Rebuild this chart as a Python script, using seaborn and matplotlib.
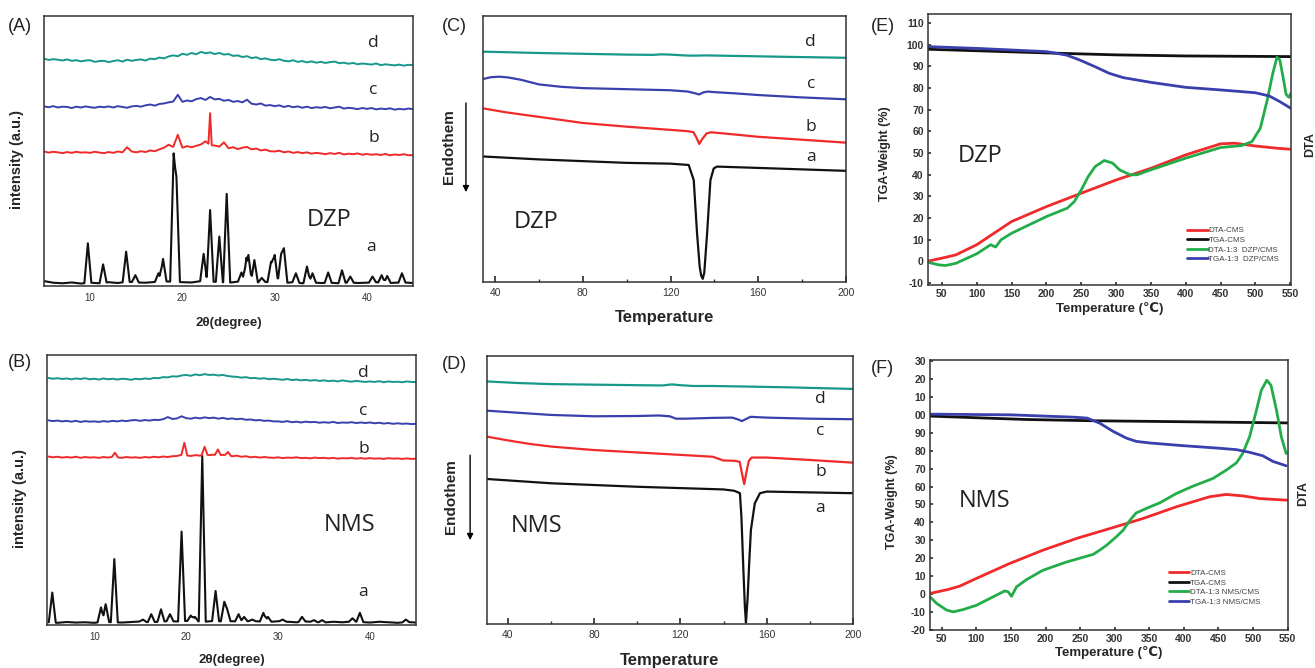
import numpy as np
import matplotlib
matplotlib.use("Agg")
import matplotlib.pyplot as plt
import seaborn as sns

sns.set_theme(style="white")
plt.rcParams['font.family'] = ['Liberation Sans', 'DejaVu Sans']

# ---------------- DATA ----------------
# XRD grids (2theta, degree)
xrd_grid = np.linspace(5, 45, 81)          # 0.5 deg steps
xrd_base_grid = np.linspace(5, 45, 41)     # 1 deg steps

# (A) DZP XRD
dzp_a_base = [1.8, 1.2, 1.0, 1.3, 0.9, 1.2, 1.0, 1.4, 1.1, 1.6, 1.3, 1.2, 1.5, 1.7, 1.6, 1.4, 1.3, 1.8, 1.6, 1.5,
              1.2, 1.6, 1.4, 1.3, 1.5, 1.2, 1.1, 1.4, 1.0, 1.3, 1.1, 1.2, 1.0, 1.3, 1.1, 1.2, 1.4, 1.0, 1.2, 1.3, 1.1]
dzp_a_peak_pos = [9.75, 11.4, 13.9, 14.9, 17.4, 17.9, 19.05, 19.2, 19.35, 22.3, 23.0, 24.0, 24.8, 26.4, 26.95,
                  27.15, 27.8, 28.6, 29.6, 30.0, 30.7, 31.0, 32.3, 33.5, 34.1, 35.8, 37.3, 38.2, 40.6, 41.6, 42.2, 43.8]
dzp_a_peak_h = [15.8, 8.0, 12.7, 4.0, 4.7, 10.0, 49.1, 44.0, 40.5, 11.9, 28.1, 18.3, 34.1, 5.0, 10.5,
                11.5, 9.6, 3.0, 8.9, 11.5, 11.9, 14.0, 4.7, 7.2, 4.7, 5.0, 5.8, 3.5, 3.5, 4.0, 3.7, 4.7]
dzp_b = [49.8, 49.4, 49.7, 49.5, 49.2, 49.6, 49.3, 49.7, 49.4, 49.5,
         49.3, 49.7, 49.4, 49.2, 49.6, 49.3, 49.8, 49.5, 51.4, 49.8,
         49.5, 49.9, 49.6, 50.2, 49.9, 50.6, 51.2, 52.3, 51.5, 56.0,
         51.2, 51.8, 51.4, 51.9, 52.4, 53.6, 52.2, 52.0, 51.6, 53.2,
         51.0, 51.4, 50.7, 51.2, 51.5, 50.6, 50.9, 50.2, 50.5, 49.9,
         49.8, 50.1, 49.5, 49.8, 49.3, 49.6, 49.2, 49.5, 49.0, 49.3,
         49.1, 48.8, 49.2, 48.9, 49.3, 48.7, 49.0, 48.8, 49.1, 48.6,
         48.9, 48.6, 48.8, 48.5, 48.9, 48.4, 48.7, 48.5, 48.8, 48.4,
         48.5]
dzp_b_peak_pos = [23.0]
dzp_b_peak_h = [64.0]
dzp_c = [66.5, 66.2, 66.6, 66.1, 66.4, 66.3, 65.9, 66.4, 66.1, 66.5,
         66.2, 66.0, 66.4, 66.2, 66.5, 66.1, 66.6, 66.3, 66.0, 66.5,
         66.7, 66.4, 66.9, 67.2, 66.8, 67.4, 67.6, 68.0, 68.3, 70.8,
         68.2, 68.7, 68.4, 69.2, 69.6, 68.9, 70.0, 69.1, 69.3, 68.6,
         68.9, 68.2, 68.5, 68.0, 69.0, 67.5, 67.2, 67.6, 66.8, 67.0,
         66.6, 66.9, 66.3, 66.7, 66.2, 66.5, 66.0, 66.4, 65.9, 66.2,
         66.0, 66.3, 65.8, 66.1, 66.4, 65.7, 66.0, 65.8, 65.5, 65.9,
         65.6, 65.9, 65.4, 65.7, 65.5, 65.8, 65.3, 65.6, 65.4, 65.7,
         65.5]
dzp_d = [84.2, 83.7, 84.0, 83.8, 83.5, 83.9, 83.4, 83.6, 83.2, 83.5,
         83.6, 83.0, 83.3, 83.4, 82.9, 83.3, 83.6, 83.1, 83.8, 83.4,
         83.7, 83.9, 83.5, 84.2, 84.0, 84.6, 84.3, 85.0, 85.4, 85.1,
         86.0, 85.6, 86.3, 85.8, 86.7, 86.2, 86.5, 85.9, 86.3, 85.7,
         85.9, 85.2, 85.4, 84.8, 85.1, 84.4, 84.7, 84.0, 84.3, 83.8,
         83.6, 84.0, 83.4, 83.2, 83.6, 83.0, 83.3, 82.8, 83.2, 82.7,
         83.0, 82.6, 82.9, 83.1, 82.5, 82.7, 82.3, 82.6, 82.1, 82.4,
         82.2, 82.0, 82.4, 81.8, 82.1, 81.9, 81.7, 82.0, 81.6, 81.9,
         81.8]

# (B) NMS XRD
nms_a_base = [1.0, 0.8, 1.1, 0.9, 1.0, 0.8, 1.2, 1.0, 0.9, 1.1, 1.3, 1.0, 1.2, 1.4, 1.3, 1.5, 1.4, 1.2, 1.5, 1.3,
              1.4, 1.2, 1.5, 1.3, 1.1, 1.4, 1.2, 1.0, 1.3, 1.1, 0.9, 1.2, 1.0, 1.3, 1.1, 0.9, 1.2, 1.0, 0.8, 1.1, 0.9]
nms_a_peak_pos = [5.43, 10.73, 11.24, 12.18, 15.3, 16.2, 17.26, 18.24, 19.5, 20.5, 20.95, 21.75, 23.2, 24.15,
                  24.45, 25.7, 26.3, 27.2, 28.4, 28.9, 30.5, 32.6, 33.9, 34.8, 38.1, 38.9, 43.9]
nms_a_peak_h = [12.0, 6.5, 7.7, 24.4, 2.0, 4.0, 5.8, 4.0, 34.6, 3.5, 3.0, 62.6, 12.6, 8.6,
                6.0, 4.0, 3.0, 2.0, 4.5, 3.0, 2.0, 3.0, 1.8, 1.8, 2.5, 4.5, 2.0]
nms_b = [62.4, 62.1, 62.3, 62.0, 62.2, 62.0, 62.3, 61.9, 62.2, 62.0,
         62.1, 61.9, 62.2, 62.0, 62.3, 62.1, 61.9, 62.2, 62.0, 62.1,
         61.9, 62.2, 62.0, 62.3, 62.1, 62.4, 62.2, 62.5, 62.6, 63.0,
         62.8, 62.6, 62.9, 62.7, 63.2, 62.9, 63.1, 62.8, 63.0, 62.9,
         62.5, 62.7, 62.3, 62.5, 62.1, 62.3, 62.0, 62.2, 62.0, 61.9,
         62.1, 61.8, 62.0, 61.9, 62.1, 61.8, 61.9, 61.7, 62.0, 61.8,
         61.9, 61.7, 61.9, 61.6, 61.8, 61.7, 61.9, 61.6, 61.8, 61.6,
         61.8, 61.6, 61.7, 61.5, 61.8, 61.6, 61.7, 61.5, 61.7, 61.5,
         61.6]
nms_b_peak_pos = [12.25, 19.8, 22.0, 23.45, 24.55]
nms_b_peak_h = [63.8, 67.5, 66.0, 65.0, 64.1]
nms_c = [75.8, 75.5, 75.7, 75.4, 75.6, 75.3, 75.6, 75.2, 75.5, 75.3,
         75.4, 75.2, 75.5, 75.3, 75.6, 75.4, 75.7, 75.5, 75.8, 75.9,
         75.6, 75.9, 75.7, 76.0, 75.9, 76.2, 77.0, 76.3, 76.5, 77.3,
         76.6, 76.4, 76.8, 76.5, 76.9, 76.6, 76.8, 76.4, 76.7, 76.3,
         76.5, 76.2, 76.4, 76.0, 76.1, 75.8, 75.9, 75.6, 75.7, 75.4,
         75.4, 75.2, 75.5, 75.1, 75.3, 75.0, 75.3, 75.1, 75.2, 74.9,
         75.1, 74.9, 75.2, 74.8, 75.0, 74.9, 75.1, 74.8, 75.0, 74.8,
         75.0, 74.7, 74.9, 74.6, 74.8, 74.5, 74.7, 74.5, 74.6, 74.4,
         74.5]
nms_d = [91.5, 91.2, 91.4, 91.1, 91.3, 91.0, 91.3, 91.1, 91.4, 91.0,
         91.2, 90.9, 91.3, 91.0, 91.2, 90.9, 91.2, 91.1, 90.8, 91.2,
         91.0, 91.3, 91.1, 91.5, 91.4, 91.8, 91.7, 92.1, 92.0, 92.4,
         92.6, 92.3, 92.8, 92.5, 92.9, 92.6, 92.7, 92.4, 92.6, 92.2,
         92.0, 91.9, 91.6, 91.8, 91.4, 91.5, 91.2, 91.4, 91.0, 91.2,
         91.0, 90.8, 91.1, 90.7, 90.9, 90.6, 90.8, 90.5, 90.7, 90.4,
         90.6, 90.3, 90.5, 90.2, 90.6, 90.3, 90.1, 90.4, 90.2, 90.0,
         90.2, 90.0, 90.3, 89.9, 90.2, 90.0, 90.1, 89.9, 90.2, 90.0,
         90.0]

# (C) DSC DZP
dsc_dzp_a_x = [34.5, 60, 100, 120, 128.3, 130.6, 132.1, 133.3, 134.0, 134.7, 135.4, 136.7, 138.2, 139.7, 141.2, 160, 200]
dsc_dzp_a_y = [47.2, 46.1, 44.8, 44.5, 44.0, 38.3, 18.4, 5.8, 2.4, 1.2, 3.5, 18.4, 38.3, 42.7, 43.4, 42.9, 41.8]
dsc_dzp_b_x = [34.5, 45, 60, 80, 100, 120, 128, 130.5, 132, 133.1, 134.5, 136.5, 138.5, 145, 160, 180, 200]
dsc_dzp_b_y = [65.3, 63.8, 62.1, 59.8, 58.4, 57.2, 56.7, 56.3, 54.0, 51.9, 53.8, 55.9, 56.3, 55.8, 54.6, 53.5, 52.4]
dsc_dzp_c_x = [34.5, 38, 42, 46, 52, 60, 70, 80, 100, 120, 128, 131, 133, 135, 137, 140, 150, 160, 180, 200]
dsc_dzp_c_y = [76.3, 77.0, 77.2, 76.9, 76.0, 74.3, 73.4, 72.9, 72.5, 72.1, 71.6, 71.0, 70.5, 71.3, 71.6, 71.4, 70.9, 70.3, 69.4, 68.7]
dsc_dzp_d_x = [34.5, 45, 60, 80, 100, 112, 116, 120, 126, 130, 136, 150, 170, 200]
dsc_dzp_d_y = [86.6, 86.4, 86.1, 85.8, 85.5, 85.4, 85.6, 85.5, 85.2, 85.1, 85.2, 85.0, 84.7, 84.3]

# (D) DSC NMS
dsc_nms_a_x = [30.3, 60, 100, 140, 145, 147.6, 148.3, 149.1, 149.9, 150.4, 151.2, 151.9, 152.7, 154.5, 156.9, 160, 200]
dsc_nms_a_y = [54.1, 52.5, 51.2, 50.2, 49.7, 48.8, 40.0, 22.6, 6.5, 0.5, 10.0, 22.6, 35.1, 45.0, 48.8, 49.4, 48.8]
dsc_nms_b_x = [30.3, 40, 50, 60, 80, 100, 120, 135, 140, 145, 147.5, 148.6, 149.6, 150.6, 151.7, 153, 160, 180, 200]
dsc_nms_b_y = [69.9, 68.5, 67.2, 66.2, 64.9, 64.0, 63.1, 62.4, 61.0, 60.9, 60.5, 56.0, 52.2, 56.5, 60.8, 62.1, 62.1, 61.2, 60.2]
dsc_nms_c_x = [30.3, 45, 60, 80, 100, 110, 115, 118, 122, 135, 144, 146.5, 148.5, 150.5, 152.5, 160, 180, 200]
dsc_nms_c_y = [79.6, 78.8, 78.0, 77.5, 77.6, 77.8, 77.5, 76.6, 76.6, 76.9, 77.0, 76.4, 75.7, 76.5, 77.3, 77.0, 76.6, 76.4]
dsc_nms_d_x = [30.3, 45, 60, 80, 100, 112, 116, 120, 126, 135, 150, 170, 200]
dsc_nms_d_y = [90.5, 89.9, 89.5, 89.3, 89.1, 89.0, 89.4, 89.1, 88.8, 88.8, 88.6, 88.3, 87.7]

# (E) TGA/DTA DZP
e_dta_cms_x = [30, 50, 70, 100, 150, 200, 250, 300, 350, 400, 450, 470, 500, 530, 551]
e_dta_cms_y = [0.0, 1.4, 2.9, 7.6, 18.3, 25.2, 31.4, 37.5, 42.9, 49.1, 54.2, 54.5, 53.2, 52.2, 51.7]
e_tga_cms_x = [30, 100, 200, 300, 400, 551]
e_tga_cms_y = [97.9, 97.2, 96.2, 95.3, 94.8, 94.5]
e_dta_mix_x = [30, 45, 55, 70, 100, 120, 127, 135, 150, 200, 230, 240, 250, 260, 270, 283, 295, 305, 320, 330,
               350, 400, 450, 480, 495, 507, 517, 525, 531, 535, 540, 544, 548, 551]
e_dta_mix_y = [-0.5, -1.7, -2.0, -1.0, 3.4, 7.6, 6.5, 9.9, 12.9, 20.6, 24.5, 27.5, 32.9, 39.1, 43.7, 46.5, 45.3,
               42.2, 39.9, 39.9, 42.2, 47.6, 52.5, 53.4, 55.2, 61.4, 74.5, 86.8, 94.2, 93.0, 84.5, 77.1, 75.7, 77.6]
e_tga_mix_x = [30, 100, 200, 229, 248, 270, 290, 310, 330, 350, 400, 450, 500, 520, 535, 551]
e_tga_mix_y = [99.1, 98.3, 96.8, 95.2, 92.9, 89.8, 86.8, 84.8, 83.7, 82.6, 80.3, 79.1, 77.8, 76.3, 73.7, 70.6]

# (F) TGA/DTA NMS
f_dta_cms_x = [32.7, 59, 76, 100, 148, 196, 245, 293, 341, 389, 437, 461, 485, 510, 550]
f_dta_cms_y = [0.4, 2.6, 4.5, 8.8, 17.1, 24.5, 31.1, 36.6, 42.2, 48.7, 54.3, 55.6, 54.8, 53.3, 52.4]
f_tga_cms_x = [32.7, 173, 269, 413, 550]
f_tga_cms_y = [99.3, 97.4, 96.7, 96.1, 95.5]
f_dta_mix_x = [32.7, 42.4, 56.8, 66.4, 80.8, 100, 124, 141, 145.8, 150.7, 157.9, 172.4, 196, 230, 269, 278, 288,
               302, 312, 322, 331, 351, 365, 389, 413, 442, 461, 476, 485, 495, 505, 512, 520, 526, 534, 541, 548]
f_dta_mix_y = [-1.5, -5.2, -8.9, -9.9, -8.6, -6.2, -1.5, 1.8, 1.3, -1.2, 4.1, 8.1, 13.3, 17.9, 22.2, 24.5, 27.2,
               31.9, 35.6, 41.2, 45.3, 48.7, 50.9, 56.1, 60.2, 64.5, 69.1, 73.2, 78.4, 87.7, 102.6, 113.7, 119.3,
               116.5, 102.6, 87.7, 78.4]
f_tga_mix_x = [32.7, 150, 241, 260, 278, 298, 317, 331, 351, 399, 447, 476, 495, 514, 529, 548]
f_tga_mix_y = [100.4, 100.0, 98.7, 98.2, 95.4, 90.7, 87.0, 85.2, 84.3, 82.8, 81.5, 80.6, 79.1, 77.2, 74.0, 71.6]

f_ytick_vals = [-20, -10, 0, 10, 20, 30, 40, 50, 60, 70, 80, 90, 100, 110, 120, 130]
f_ytick_labels = ['-20', '-10', '0', '10', '20', '30', '40', '50', '60', '70', '80', '90', '00', '10', '20', '30']

legend_e = ['DTA-CMS', 'TGA-CMS', 'DTA-1:3  DZP/CMS', 'TGA-1:3  DZP/CMS']
legend_f = ['DTA-CMS', 'TGA-CMS', 'DTA-1:3 NMS/CMS', 'TGA-1:3 NMS/CMS']

# ---------------- STYLE ----------------
TEAL = '#16988a'
BLUE = '#3a3fae'
RED = '#f02a2a'
GREEN = '#22ad4a'
BLACK = '#111111'
SPINE = '#333333'
LABEL_FONT = ['Open Sans', 'DejaVu Sans']


def spiky(gx, gy, pos, h, hw):
    gx = np.asarray(gx, float)
    gy = np.asarray(gy, float)
    pos = np.asarray(pos, float)
    h = np.asarray(h, float)
    xs = np.unique(np.concatenate([gx, pos - hw, pos, pos + hw]))
    base = np.interp(xs, gx, gy)
    ys = base.copy()
    for p, hh in zip(pos, h):
        f = np.clip(1 - np.abs(xs - p) / hw, 0, None)
        ys = np.maximum(ys, base + (hh - base) * f)
    return xs, ys


def line(ax, x, y, color, lw, label=None):
    kw = dict(x=np.asarray(x, float), y=np.asarray(y, float), ax=ax, color=color,
              linewidth=lw, estimator=None, sort=False)
    if label is not None:
        kw['label'] = label
    sns.lineplot(**kw)


def frame(ax):
    for s in ax.spines.values():
        s.set_color(SPINE)
        s.set_linewidth(1.1)
        s.set_visible(True)


fig = plt.figure(figsize=(13.15, 6.68), dpi=100)
axA = fig.add_axes([0.0335, 0.5719, 0.2806, 0.4042])
axB = fig.add_axes([0.0357, 0.0644, 0.2806, 0.4042])
axC = fig.add_axes([0.3673, 0.5778, 0.2760, 0.3982])
axD = fig.add_axes([0.3703, 0.0659, 0.2783, 0.4012])
axE = fig.add_axes([0.7057, 0.5734, 0.2760, 0.4057])
axF = fig.add_axes([0.7072, 0.0569, 0.2722, 0.4042])

# ---- XRD panels ----
def xrd_panel(ax, a_base, a_pos, a_h, b, b_pos, b_h, b_hw, c, d, xlim, lab_pos, name, name_pos):
    xa, ya = spiky(xrd_base_grid, a_base, a_pos, a_h, 0.38)
    xb, yb = spiky(xrd_grid, b, b_pos, b_h, b_hw)
    line(ax, xa, ya, BLACK, 1.5)
    line(ax, xb, yb, RED, 1.4)
    line(ax, xrd_grid, c, BLUE, 1.4)
    line(ax, xrd_grid, d, TEAL, 1.4)
    ax.set_xlim(*xlim)
    ax.set_ylim(0, 100)
    ax.set_yticks([])
    ax.set_xticks([10, 20, 30, 40])
    ax.tick_params(axis='x', direction='in', length=3, labelsize=7, colors=SPINE, pad=5)
    for t, (lx, ly) in zip(['a', 'b', 'c', 'd'], lab_pos):
        ax.text(lx, ly, t, fontsize=12.5, family=LABEL_FONT, ha='center', va='center', color='#222')
    ax.text(name_pos[0], name_pos[1], name, fontsize=17, family=LABEL_FONT, ha='center', va='center', color='#222')
    ax.set_xlabel('2θ(degree)', fontsize=9.5, fontweight='bold', va='center')
    ax.set_ylabel('intensity (a.u.)', fontsize=10.5, fontweight='bold', va='center')
    frame(ax)


xrd_panel(axA, dzp_a_base, dzp_a_peak_pos, dzp_a_peak_h, dzp_b, dzp_b_peak_pos, dzp_b_peak_h, 0.18,
          dzp_c, dzp_d, (5, 45), [(40.5, 14.4), (40.7, 54.8), (40.7, 72.6), (40.7, 90.0)], 'DZP', (35.9, 24.4))
axA.xaxis.set_label_coords(0.5, -0.137)
axA.yaxis.set_label_coords(-0.073, 0.467)

xrd_panel(axB, nms_a_base, nms_a_peak_pos, nms_a_peak_h, nms_b, nms_b_peak_pos, nms_b_peak_h, 0.32,
          nms_c, nms_d, (4.85, 45), [(39.3, 12.2), (39.3, 65.2), (39.3, 79.3), (39.3, 93.3)], 'NMS', (37.8, 37.0))
axB.xaxis.set_label_coords(0.5, -0.13)
axB.yaxis.set_label_coords(-0.073, 0.47)

# ---- DSC panels ----
def dsc_panel(ax, curves, xlim, lab_pos, name, name_pos, arrow_x, arrow_y, lab_x, lab_y):
    for (x, y), col in zip(curves, [BLACK, RED, BLUE, TEAL]):
        line(ax, x, y, col, 1.6)
    ax.set_xlim(*xlim)
    ax.set_ylim(0, 100)
    ax.set_yticks([])
    ax.set_xticks([40, 80, 120, 160, 200])
    ax.set_xticks([60, 100, 140, 180], minor=True)
    ax.tick_params(axis='x', which='major', direction='in', length=4, labelsize=7.5, colors=SPINE, pad=4, bottom=True)
    ax.tick_params(axis='x', which='minor', direction='in', length=2.5, colors=SPINE, bottom=True)
    for t, (lx, ly) in zip(['a', 'b', 'c', 'd'], lab_pos):
        ax.text(lx, ly, t, fontsize=12.5, family=LABEL_FONT, ha='center', va='center', color='#222')
    ax.text(name_pos[0], name_pos[1], name, fontsize=17, family=LABEL_FONT, ha='center', va='center', color='#222')
    ax.set_xlabel('Temperature', fontsize=12, fontweight='bold', va='center')
    ax.xaxis.set_label_coords(0.5, -0.135)
    ax.text(lab_x, lab_y, 'Endothem', transform=ax.transAxes, rotation=90, fontsize=11,
            fontweight='bold', ha='center', va='center')
    ax.annotate('', xy=(arrow_x, arrow_y[1]), xytext=(arrow_x, arrow_y[0]), xycoords='axes fraction',
                textcoords='axes fraction', annotation_clip=False,
                arrowprops=dict(arrowstyle='-|>', color='black', lw=1.0, mutation_scale=9,
                                shrinkA=0, shrinkB=0))
    frame(ax)


dsc_panel(axC, [(dsc_dzp_a_x, dsc_dzp_a_y), (dsc_dzp_b_x, dsc_dzp_b_y), (dsc_dzp_c_x, dsc_dzp_c_y),
                (dsc_dzp_d_x, dsc_dzp_d_y)], (34.5, 200),
          [(184, 47.0), (184, 58.3), (184, 74.4), (184, 90.2)], 'DZP', (58.7, 22.6),
          -0.047, (0.673, 0.338), -0.094, 0.508)

dsc_panel(axD, [(dsc_nms_a_x, dsc_nms_a_y), (dsc_nms_b_x, dsc_nms_b_y), (dsc_nms_c_x, dsc_nms_c_y),
                (dsc_nms_d_x, dsc_nms_d_y)], (30.3, 200),
          [(185, 43.3), (185, 56.7), (185, 72.0), (185, 84.0)], 'NMS', (53.2, 36.6),
          -0.046, (0.63, 0.313), -0.098, 0.474)

# ---- TGA/DTA panels ----
def tga_panel(ax, series, labels, xlim, ylim, yticks, yticklabels, name, name_pos, leg_anchor, ylab_x, ylab_y, dta_x, dta_y):
    for (x, y), col, lab in zip(series, [RED, BLACK, GREEN, BLUE], labels):
        line(ax, x, y, col, 2.0, label=lab)
    ax.set_xlim(*xlim)
    ax.set_ylim(*ylim)
    ax.set_xticks(list(range(50, 551, 50)))
    ax.set_yticks(yticks)
    ax.set_yticklabels(yticklabels)
    ax.tick_params(axis='both', direction='in', length=2.5, labelsize=7.5, colors=SPINE, pad=3,
                   bottom=True, left=True)
    for lbl in ax.get_xticklabels() + ax.get_yticklabels():
        lbl.set_fontweight('bold')
    ax.text(name_pos[0], name_pos[1], name, fontsize=17, family=LABEL_FONT, ha='center', va='center',
            color='#222', transform=ax.transAxes)
    ax.set_xlabel('Temperature (℃)', fontsize=9.5, fontweight='bold', va='center')
    ax.xaxis.set_label_coords(0.5, -0.085)
    ax.set_ylabel('TGA-Weight (%)', fontsize=9, fontweight='bold', va='center')
    ax.yaxis.set_label_coords(ylab_x, ylab_y)
    ax.text(dta_x, dta_y, 'DTA', transform=ax.transAxes, rotation=90, fontsize=9, fontweight='bold',
            ha='center', va='center')
    leg = ax.legend(loc='upper left', bbox_to_anchor=leg_anchor, frameon=False, fontsize=5.8,
                    handlelength=2.5, handletextpad=0.1, labelspacing=0.25, borderpad=0, borderaxespad=0)
    for txt in leg.get_texts():
        txt.set_color('#444')
    frame(ax)


tga_panel(axE, [(e_dta_cms_x, e_dta_cms_y), (e_tga_cms_x, e_tga_cms_y), (e_dta_mix_x, e_dta_mix_y),
                (e_tga_mix_x, e_tga_mix_y)], legend_e, (30, 551), (-11, 114.2),
          list(range(-10, 111, 10)), [str(v) for v in range(-10, 111, 10)], 'DZP', (0.145, 0.475),
          (0.715, 0.215), -0.118, 0.483, 1.052, 0.517)

tga_panel(axF, [(f_dta_cms_x, f_dta_cms_y), (f_tga_cms_x, f_tga_cms_y), (f_dta_mix_x, f_dta_mix_y),
                (f_tga_mix_x, f_tga_mix_y)], legend_f, (32.7, 550.5), (-20, 130.6),
          f_ytick_vals, f_ytick_labels, 'NMS', (0.153, 0.478),
          (0.668, 0.225), -0.106, 0.474, 1.042, 0.507)

# ---- panel letters ----
for t, (px, py) in zip(['(A)', '(B)', '(C)', '(D)', '(E)', '(F)'],
                       [(0.006, 0.961), (0.006, 0.457), (0.336, 0.961), (0.336, 0.454), (0.662, 0.961), (0.662, 0.449)]):
    fig.text(px, py, t, fontsize=13, ha='left', va='center', color='#222')

fig.savefig('out.png', dpi=100)
